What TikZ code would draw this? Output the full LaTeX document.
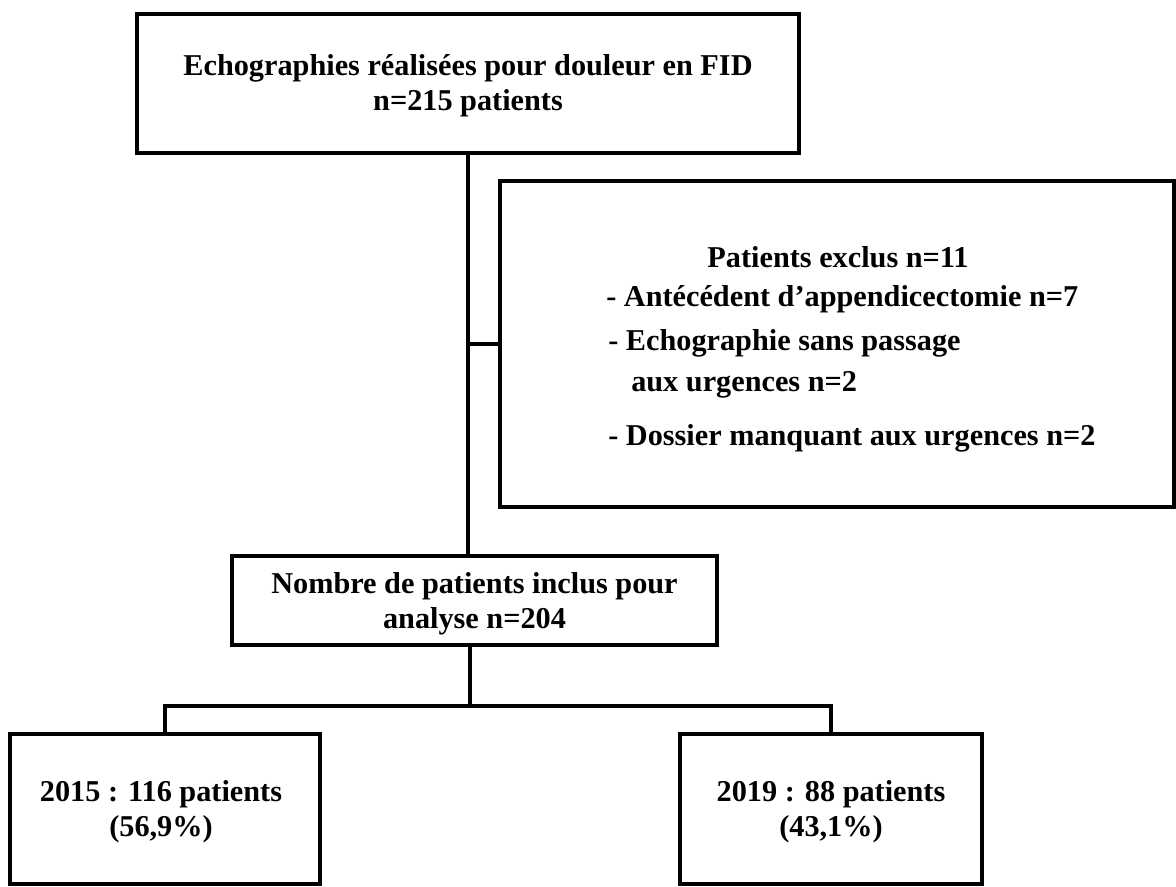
\documentclass[tikz,border=0pt]{standalone}
\usepackage{fontspec}
\setmainfont{Liberation Serif}
\begin{document}
\begin{tikzpicture}[x=0.75pt,y=-0.75pt,
  box/.style={draw, line width=2.4pt, rectangle, inner sep=0pt},
  lbl/.style={font=\bfseries\fontsize{22.7}{26}\selectfont, align=center, inner sep=0pt},
  item/.style={font=\bfseries\fontsize{22.7}{26}\selectfont, inner sep=0pt, anchor=base west},
  link/.style={line width=2.4pt}]
\useasboundingbox (0,0) rectangle (1176,887);

% boxes
\node[box, minimum width=496.5pt, minimum height=104.25pt] (top) at (468,83.5) {};
\node[box, minimum width=505.5pt, minimum height=244.5pt] (excl) at (837,344) {};
\node[box, minimum width=363.75pt, minimum height=66.75pt] (mid) at (474.5,600.5) {};
\node[box, minimum width=232.5pt, minimum height=112.5pt] (bl) at (165,809) {};
\node[box, minimum width=226.5pt, minimum height=112.5pt] (br) at (831,809) {};

% box texts
\node[lbl] (toptxt) at (468,86) {Echographies réalisées pour douleur en FID\\n=215 patients};
\node[lbl] (midtxt) at (474.5,604) {Nombre de patients inclus pour\\analyse n=204};
\node[lbl] (bltxt) at (161,812) {2015 : 116 patients\\(56,9\%)};
\node[lbl] (brtxt) at (831,812) {2019 : 88 patients\\(43,1\%)};

\node[lbl] (e0) at (838,257) {Patients exclus n=11};
\node[item] (e1) at (606,307) {- Antécédent d'appendicectomie n=7};
\node[item] (e2) at (608,350) {- Echographie sans passage};
\node[item] (e3) at (631,391) {aux urgences n=2};
\node[item] (e4) at (608,445) {- Dossier manquant aux urgences n=2};

% connectors
\draw[link] (top.south) -- (top.south |- mid.north);
\draw[link] (top.south |- excl.west) -- (excl.west);
\coordinate (split) at (470,706);
\draw[link] (mid.south -| split) -- (split);
\draw[link] (bl.north) -- (bl.north |- split) -- (br.north |- split) -- (br.north);
\end{tikzpicture}
\end{document}
